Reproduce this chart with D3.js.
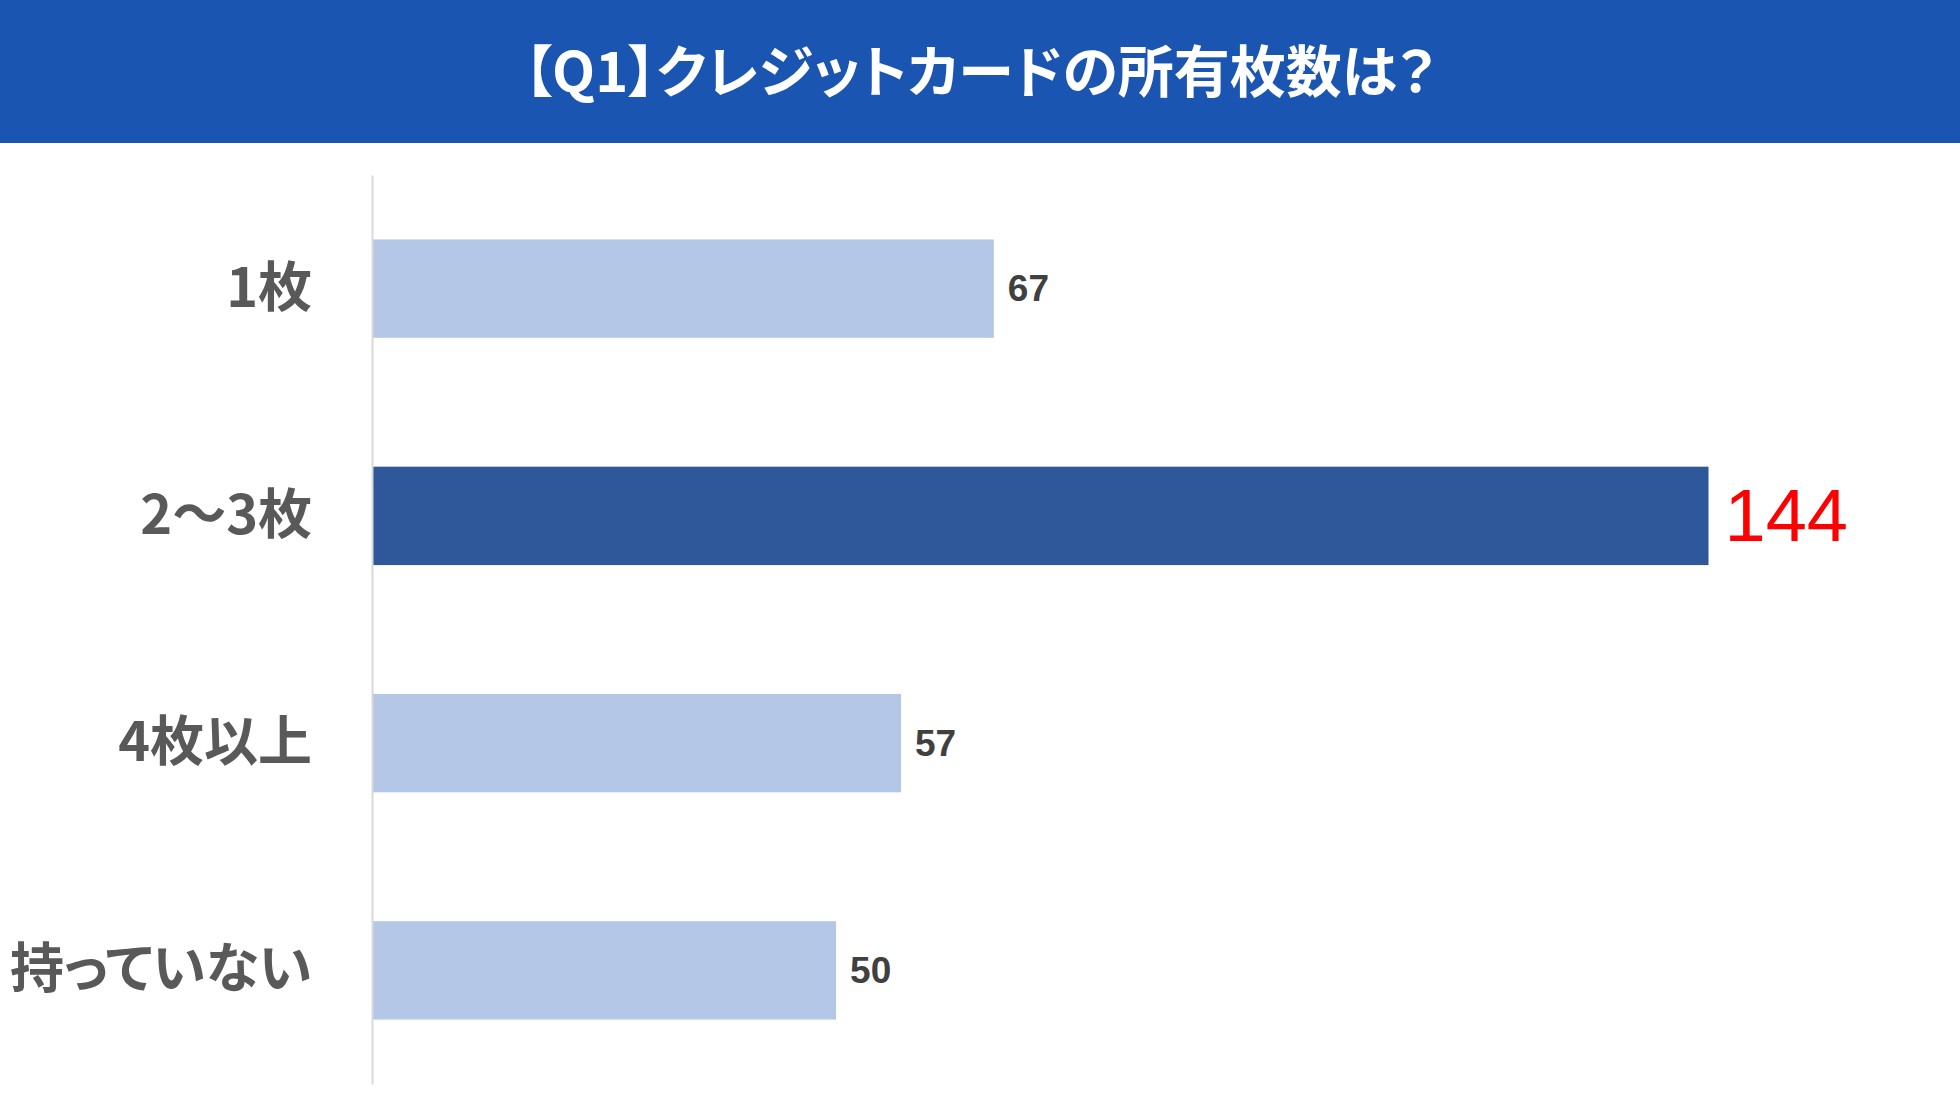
<!DOCTYPE html>
<html>
<head>
<meta charset="utf-8">
<script src="https://cdn.jsdelivr.net/npm/d3@7"></script>
<style>
  body { margin: 0; background: #fff; }
  svg { display: block; }
  text { font-feature-settings: "palt"; }
</style>
</head>
<body>
<svg width="1960" height="1107"></svg>
<script>
var title = '【Q1】クレジットカードの所有枚数は？';
var categories = ['1枚', '2〜3枚', '4枚以上', '持っていない'];
var values = [67, 144, 57, 50];
var highlight = '2〜3枚';

var svg = d3.select('svg'),
	width = +svg.attr('width'),
	height = +svg.attr('height');

// header band
svg.append('rect')
	.attr('x', 0)
	.attr('y', 0)
	.attr('width', width)
	.attr('height', 143)
	.attr('fill', '#1a55b2');

svg.append('text')
	.attr('x', width / 2)
	.attr('y', 67)
	.attr('text-anchor', 'middle')
	.attr('dominant-baseline', 'central')
	.style('font-family', '"Noto Sans CJK JP", sans-serif')
	.style('font-weight', 700)
	.style('font-size', '56px')
	.attr('fill', '#fff')
	.text(title);

var x = d3.scaleLinear()
	.domain([0, 160])
	.range([372, 1857]);

var y = d3.scaleBand()
	.domain(categories)
	.range([175, 1084])
	.paddingInner(0.567)
	.paddingOuter(0.2835);

var rows = categories.map(function(c, i){
	return {name: c, value: values[i]};
});

var g = svg.append('g');

g.selectAll('rect.bar')
	.data(rows)
	.enter().append('rect')
		.attr('class', 'bar')
		.attr('x', x(0))
		.attr('y', function(d){ return y(d.name); })
		.attr('width', function(d){ return x(d.value) - x(0); })
		.attr('height', y.bandwidth())
		.attr('fill', function(d){
			return d.name === highlight ? '#2e5899' : '#b4c7e7';
		});

// axis line
var yAxis = g.append('g')
	.attr('transform', 'translate(' + x(0) + ',0)')
	.call(d3.axisLeft(y).tickSize(0).tickPadding(60));

yAxis.select('.domain')
	.attr('stroke', '#d9d9d9')
	.attr('stroke-width', 2);

yAxis.selectAll('text')
	.attr('fill', '#595959')
	.attr('dy', '-0.1em')
	.attr('dominant-baseline', 'central')
	.style('font-family', '"Noto Sans CJK JP", sans-serif')
	.style('font-weight', 700)
	.style('font-size', '54px');

g.selectAll('text.val')
	.data(rows)
	.enter().append('text')
		.attr('class', 'val')
		.attr('x', function(d){ return x(d.value) + (d.name === highlight ? 16 : 14); })
		.attr('y', function(d){ return y(d.name) + y.bandwidth() / 2; })
		.attr('dominant-baseline', 'central')
		.style('font-family', '"Liberation Sans", Arial, sans-serif')
		.style('font-weight', function(d){ return d.name === highlight ? 400 : 700; })
		.style('font-size', function(d){ return d.name === highlight ? '74px' : '37px'; })
		.attr('fill', function(d){ return d.name === highlight ? '#ff0000' : '#404040'; })
		.text(function(d){ return d.value; });
</script>
</body>
</html>
